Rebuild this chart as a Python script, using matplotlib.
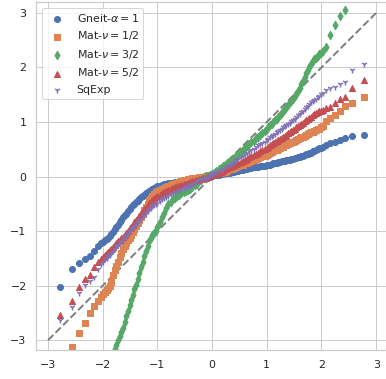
import numpy as np
import matplotlib
matplotlib.use("Agg")
import matplotlib.pyplot as plt
import seaborn as sns

nan = np.nan

# theoretical normal quantiles (x axis, shared by all series)
theo_q = [-2.78, -2.56, -2.43, -2.33, -2.24, -2.16, -2.09, -2.03,
          -1.99, -1.96, -1.93, -1.90, -1.87, -1.84, -1.81, -1.78, -1.75, -1.72,
          -1.69, -1.66, -1.63, -1.60, -1.57, -1.54, -1.51, -1.48, -1.45, -1.42,
          -1.39, -1.36, -1.33, -1.30, -1.27, -1.24, -1.21, -1.18, -1.15, -1.12,
          -1.09, -1.06, -1.03, -1.00,
          -0.96, -0.92, -0.88, -0.84, -0.80, -0.76, -0.72, -0.68, -0.64, -0.60,
          -0.56, -0.52, -0.48, -0.44, -0.40, -0.36, -0.32, -0.28, -0.24, -0.20,
          -0.16, -0.12, -0.08, -0.04, 0.00, 0.04, 0.08, 0.12, 0.16, 0.20,
          0.24, 0.28, 0.32, 0.36, 0.40, 0.44, 0.48, 0.52, 0.56, 0.60,
          0.64, 0.68, 0.72, 0.76, 0.80, 0.84, 0.88, 0.92, 0.96,
          1.00, 1.03, 1.06, 1.09, 1.12, 1.15, 1.18, 1.21, 1.24, 1.27,
          1.30, 1.33, 1.36, 1.39, 1.42, 1.45, 1.48, 1.51, 1.54, 1.57,
          1.60, 1.63, 1.66, 1.69, 1.72, 1.75, 1.78, 1.81, 1.84, 1.87,
          1.90, 1.93, 1.96, 1.99,
          2.03, 2.09, 2.16, 2.24, 2.33, 2.43, 2.56, 2.78]

# sample quantiles
gneit_1 = [-2.02, -1.70, -1.58, -1.51, -1.45, -1.36, -1.27, -1.22,
           -1.20, -1.17, -1.15, -1.12, -1.09, -1.05, -1.02, -0.97, -0.92, -0.88,
           -0.84, -0.79, -0.75, -0.71, -0.68, -0.64, -0.60, -0.56, -0.53, -0.50,
           -0.47, -0.44, -0.41, -0.38, -0.36, -0.33, -0.31, -0.29, -0.27, -0.24,
           -0.22, -0.21, -0.19, -0.18,
           -0.17, -0.15, -0.14, -0.13, -0.12, -0.12, -0.11, -0.10, -0.10, -0.09,
           -0.08, -0.08, -0.07, -0.06, -0.06, -0.05, -0.04, -0.04, -0.03, -0.02,
           -0.02, -0.01, 0.00, 0.00, 0.01, 0.02, 0.03, 0.03, 0.04, 0.05,
           0.06, 0.06, 0.07, 0.08, 0.09, 0.10, 0.11, 0.12, 0.12, 0.13,
           0.14, 0.15, 0.16, 0.17, 0.17, 0.18, 0.19, 0.20, 0.20,
           0.21, 0.22, 0.22, 0.23, 0.24, 0.25, 0.25, 0.26, 0.27, 0.28,
           0.28, 0.29, 0.30, 0.31, 0.31, 0.32, 0.33, 0.34, 0.34, 0.35,
           0.36, 0.37, 0.38, 0.39, 0.41, 0.42, 0.43, 0.44, 0.46, 0.47,
           0.49, 0.50, 0.52, 0.53,
           0.55, 0.58, 0.61, 0.64, 0.67, 0.71, 0.74, 0.77]

mat_12 = [nan, -3.12, -2.87, -2.69, -2.51, -2.38, -2.29, -2.21,
          -2.16, -2.12, -2.08, -2.04, -2.00, -1.93, -1.81, -1.72, -1.64, -1.56,
          -1.48, -1.40, -1.33, -1.27, -1.22, -1.17, -1.12, -1.07, -1.02, -0.97,
          -0.91, -0.85, -0.79, -0.74, -0.68, -0.61, -0.55, -0.50, -0.45, -0.40,
          -0.36, -0.32, -0.29, -0.27,
          -0.25, -0.23, -0.21, -0.19, -0.17, -0.16, -0.14, -0.13, -0.11, -0.10,
          -0.09, -0.07, -0.06, -0.05, -0.04, -0.03, -0.02, -0.02, -0.01, 0.00,
          0.00, 0.01, 0.02, 0.02, 0.03, 0.04, 0.05, 0.06, 0.07, 0.08,
          0.09, 0.11, 0.13, 0.14, 0.16, 0.18, 0.19, 0.21, 0.22, 0.24,
          0.25, 0.27, 0.29, 0.30, 0.32, 0.34, 0.35, 0.37, 0.38,
          0.40, 0.42, 0.43, 0.45, 0.46, 0.48, 0.49, 0.51, 0.52, 0.54,
          0.55, 0.57, 0.58, 0.60, 0.61, 0.63, 0.64, 0.66, 0.67, 0.69,
          0.70, 0.72, 0.73, 0.75, 0.76, 0.78, 0.79, 0.81, 0.82, 0.84,
          0.85, 0.87, 0.88, 0.90,
          0.93, 1.01, 1.07, 1.13, 1.21, 1.29, 1.35, 1.45]

mat_32 = [nan, nan, nan, nan, nan, nan, nan, nan,
          nan, nan, nan, nan, nan, nan, -3.25, -3.16, -3.08, -3.00,
          -2.93, -2.85, -2.77, -2.67, -2.56, -2.46, -2.36, -2.26, -2.17, -2.07,
          -1.98, -1.88, -1.77, -1.66, -1.56, -1.46, -1.37, -1.27, -1.19, -1.13,
          -1.08, -1.03, -0.99, -0.93,
          -0.84, -0.74, -0.66, -0.58, -0.51, -0.47, -0.42, -0.39, -0.36, -0.33,
          -0.31, -0.28, -0.26, -0.24, -0.22, -0.19, -0.16, -0.13, -0.09, -0.06,
          -0.03, -0.01, 0.01, 0.03, 0.05, 0.07, 0.10, 0.13, 0.16, 0.19,
          0.22, 0.25, 0.28, 0.31, 0.34, 0.38, 0.41, 0.45, 0.48, 0.52,
          0.56, 0.59, 0.63, 0.66, 0.70, 0.73, 0.77, 0.80, 0.84,
          0.88, 0.91, 0.94, 0.97, 1.00, 1.03, 1.06, 1.09, 1.13, 1.17,
          1.21, 1.24, 1.28, 1.32, 1.36, 1.39, 1.43, 1.48, 1.52, 1.57,
          1.62, 1.69, 1.76, 1.82, 1.89, 1.95, 2.01, 2.06, 2.11, 2.15,
          2.18, 2.21, 2.24, 2.26,
          2.30, 2.38, 2.60, 2.77, 2.94, 3.06, nan, nan]

mat_52 = [-2.54, -2.29, -2.02, -1.88, -1.80, -1.65, -1.57, -1.51,
          -1.47, -1.44, -1.41, -1.38, -1.35, -1.32, -1.29, -1.26, -1.22, -1.19,
          -1.16, -1.13, -1.10, -1.07, -1.03, -0.99, -0.95, -0.92, -0.88, -0.84,
          -0.80, -0.76, -0.73, -0.68, -0.64, -0.60, -0.57, -0.53, -0.49, -0.46,
          -0.43, -0.40, -0.38, -0.36,
          -0.34, -0.31, -0.29, -0.27, -0.25, -0.23, -0.21, -0.20, -0.18, -0.17,
          -0.15, -0.14, -0.13, -0.11, -0.10, -0.09, -0.07, -0.06, -0.05, -0.04,
          -0.03, -0.02, 0.00, 0.01, 0.02, 0.04, 0.05, 0.07, 0.09, 0.11,
          0.13, 0.15, 0.17, 0.19, 0.21, 0.23, 0.25, 0.27, 0.29, 0.31,
          0.33, 0.35, 0.37, 0.39, 0.42, 0.44, 0.46, 0.48, 0.50,
          0.53, 0.55, 0.57, 0.59, 0.61, 0.63, 0.65, 0.67, 0.68, 0.70,
          0.72, 0.74, 0.77, 0.79, 0.81, 0.83, 0.86, 0.88, 0.90, 0.92,
          0.95, 0.97, 0.99, 1.01, 1.04, 1.06, 1.08, 1.10, 1.12, 1.14,
          1.16, 1.18, 1.20, 1.21,
          1.22, 1.25, 1.28, 1.34, 1.42, 1.46, 1.63, 1.77]

sq_exp = [-2.63, -2.40, -2.13, -1.98, -1.91, -1.84, -1.70, -1.60,
          -1.56, -1.52, -1.49, -1.46, -1.43, -1.40, -1.36, -1.32, -1.28, -1.25,
          -1.22, -1.18, -1.14, -1.11, -1.08, -1.04, -1.00, -0.97, -0.94, -0.90,
          -0.87, -0.83, -0.80, -0.77, -0.73, -0.70, -0.67, -0.63, -0.60, -0.57,
          -0.54, -0.52, -0.50, -0.48,
          -0.45, -0.42, -0.39, -0.37, -0.35, -0.32, -0.30, -0.29, -0.27, -0.25,
          -0.23, -0.21, -0.19, -0.17, -0.15, -0.13, -0.11, -0.09, -0.07, -0.05,
          -0.04, -0.02, 0.00, 0.02, 0.04, 0.06, 0.08, 0.10, 0.12, 0.14,
          0.17, 0.19, 0.22, 0.25, 0.27, 0.30, 0.33, 0.35, 0.38, 0.41,
          0.43, 0.46, 0.49, 0.51, 0.54, 0.57, 0.59, 0.62, 0.64,
          0.67, 0.69, 0.72, 0.74, 0.76, 0.78, 0.81, 0.83, 0.85, 0.87,
          0.90, 0.92, 0.94, 0.96, 0.99, 1.01, 1.04, 1.06, 1.09, 1.12,
          1.15, 1.18, 1.21, 1.24, 1.27, 1.30, 1.33, 1.36, 1.38, 1.41,
          1.43, 1.46, 1.48, 1.51,
          1.53, 1.58, 1.62, 1.65, 1.69, 1.74, 1.96, 2.07]

labels = [r"Gneit-$\alpha=1$", r"Mat-$\nu=1/2$", r"Mat-$\nu=3/2$",
          r"Mat-$\nu=5/2$", "SqExp"]
markers = ["o", "s", "d", "^", "1"]

sns.set_theme(style="whitegrid")
colors = sns.color_palette("deep")

fig = plt.figure(figsize=(386 / 72, 379 / 72), dpi=72)
ax = fig.add_axes([36 / 386, 29 / 379, 350 / 386, 348 / 379])

ax.plot([-3, 3], [-3, 3], "--", color="gray", lw=2, zorder=1)

series = [gneit_1, mat_12, mat_32, mat_52, sq_exp]
for ys, lab, m, c in zip(series, labels, markers, colors):
    if m == "1":
        ax.scatter(theo_q, ys, marker=m, color=c, label=lab, s=36, linewidths=1.5)
    else:
        ax.scatter(theo_q, ys, marker=m, color=c, label=lab, s=36)

ax.set_xlim(-3.22, 3.18)
ax.set_ylim(-3.18, 3.2)
ax.set_xticks([-3, -2, -1, 0, 1, 2, 3])
ax.set_yticks([-3, -2, -1, 0, 1, 2, 3])
ax.legend(loc="upper left")

fig.savefig("out.png", dpi=72)
